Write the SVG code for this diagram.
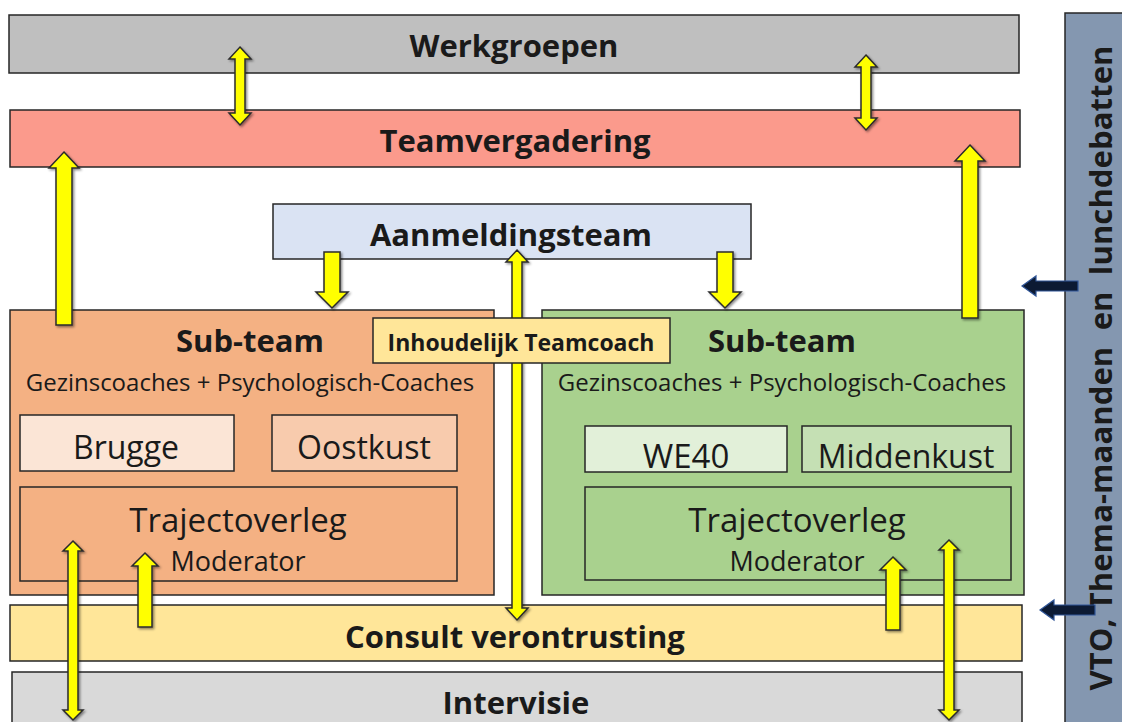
<svg xmlns="http://www.w3.org/2000/svg" width="1122" height="722" viewBox="0 0 1122 722">
<style>
.box{stroke:#262626;stroke-width:1.5}
.t{font-family:"Open Sans",Lato,"Liberation Sans",sans-serif;fill:#1a1a1a;text-anchor:middle;dominant-baseline:central}
.b{font-weight:bold}
.h{font-size:31px;font-weight:bold}
.l{font-size:32px}
.ya{fill:#ffff00;stroke:#2b2b2b;stroke-width:1.5;stroke-linejoin:miter;filter:url(#sh)}
.na{fill:#0c1a33;stroke:#2f5597;stroke-width:1.2}
</style>
<defs>
<filter id="sh" x="-50%" y="-10%" width="200%" height="120%">
<feDropShadow dx="1.5" dy="1.5" stdDeviation="1.2" flood-color="#000" flood-opacity="0.45"/>
</filter>
</defs>
<rect width="1122" height="722" fill="#ffffff"/>
<g id="werkgroepen"><rect class="box" x="9" y="15" width="1010" height="58" fill="#bfbfbf"/><text class="t h" x="514" y="45">Werkgroepen</text></g>
<g id="teamvergadering"><rect class="box" x="10" y="110" width="1010" height="57" fill="#fb9a8c"/><text class="t h" x="515" y="140">Teamvergadering</text></g>
<g id="aanmeldingsteam"><rect class="box" x="273" y="204" width="478" height="55" fill="#dae3f3"/><text class="t h" x="511" y="234">Aanmeldingsteam</text></g>
<g id="subteam-links"><rect class="box" x="10" y="310" width="484" height="285" fill="#f4b183"/><text class="t h" x="250" y="340">Sub-team</text><text class="t" x="250" y="381" font-size="24">Gezinscoaches + Psychologisch-Coaches</text></g>
<g id="brugge"><rect class="box" x="20" y="415" width="214" height="56" fill="#fbe5d6"/><text class="t l" x="126" y="446">Brugge</text></g>
<g id="oostkust"><rect class="box" x="272" y="415" width="185" height="56" fill="#f8cbad"/><text class="t l" x="364" y="446">Oostkust</text></g>
<g id="trajectoverleg-links"><rect class="box" x="20" y="487" width="437" height="94" fill="#f4b183"/><text class="t" x="238" y="519" font-size="33">Trajectoverleg</text><text class="t" x="238" y="560" font-size="27">Moderator</text></g>
<g id="subteam-rechts"><rect class="box" x="542" y="310" width="482" height="285" fill="#a9d18e"/><text class="t h" x="782" y="340">Sub-team</text><text class="t" x="782" y="381" font-size="24">Gezinscoaches + Psychologisch-Coaches</text></g>
<g id="we40"><rect class="box" x="585" y="426" width="202" height="46" fill="#e2f0d9"/><text class="t" x="686" y="455" font-size="33">WE40</text></g>
<g id="middenkust"><rect class="box" x="802" y="426" width="209" height="46" fill="#c5e0b4"/><text class="t l" x="906" y="455">Middenkust</text></g>
<g id="trajectoverleg-rechts"><rect class="box" x="585" y="487" width="426" height="93" fill="#a9d18e"/><text class="t" x="797" y="519" font-size="33">Trajectoverleg</text><text class="t" x="797" y="560" font-size="27">Moderator</text></g>
<g id="consult"><rect class="box" x="10" y="605" width="1012" height="56" fill="#ffe699"/><text class="t h" x="515" y="636">Consult verontrusting</text></g>
<g id="intervisie"><rect class="box" x="12" y="672" width="1010" height="60" fill="#d9d9d9"/><text class="t h" x="516" y="702">Intervisie</text></g>
<g id="vto"><rect class="box" x="1065" y="13" width="62" height="720" fill="#8497b0"/><text class="t h" font-size="30" xml:space="preserve" textLength="645" lengthAdjust="spacing" transform="translate(1100,368) rotate(-90)">VTO, Thema-maanden  en  lunchdebatten</text></g>
<g id="connectors">
<polygon class="ya" points="240,47 251,59 245,59 245,113 251,113 240,125 229,113 235,113 235,59 229,59"/>
<polygon class="ya" points="866,55 877,67 871,67 871,118 877,118 866,130 855,118 861,118 861,67 855,67"/>
<polygon class="ya" points="64,152 79,168 72,168 72,325 56,325 56,168 49,168"/>
<polygon class="ya" points="970,145 985,161 978,161 978,318 962,318 962,161 955,161"/>
<polygon class="ya" points="324,252 340,252 340,292 348,292 332,308 316,292 324,292"/>
<polygon class="ya" points="717,252 733,252 733,292 741,292 725,308 709,292 717,292"/>
<polygon class="ya" points="517,250 528,262 522,262 522,608 528,608 517,620 506,608 512,608 512,262 506,262"/>
<polygon class="ya" points="73,541 83,551 78,551 78,710 83,710 73,720 63,710 68,710 68,551 63,551"/>
<polygon class="ya" points="949,540 959,550 954,550 954,710 959,710 949,720 939,710 944,710 944,550 939,550"/>
<polygon class="ya" points="145,553 158,566 152,566 152,627 138,627 138,566 132,566"/>
<polygon class="ya" points="893,557 906,570 900,570 900,630 886,630 886,570 880,570"/>
<polygon class="na" points="1022,286 1036,276 1036,281 1078,281 1078,291 1036,291 1036,296"/>
<polygon class="na" points="1040,610 1054,600 1054,605 1095,605 1095,615 1054,615 1054,620"/>
</g>
<g id="inhoudelijk-teamcoach"><rect class="box" x="373" y="318" width="297" height="45" fill="#ffe699"/><text class="t b" x="521" y="342" font-size="23">Inhoudelijk Teamcoach</text></g>
</svg>
